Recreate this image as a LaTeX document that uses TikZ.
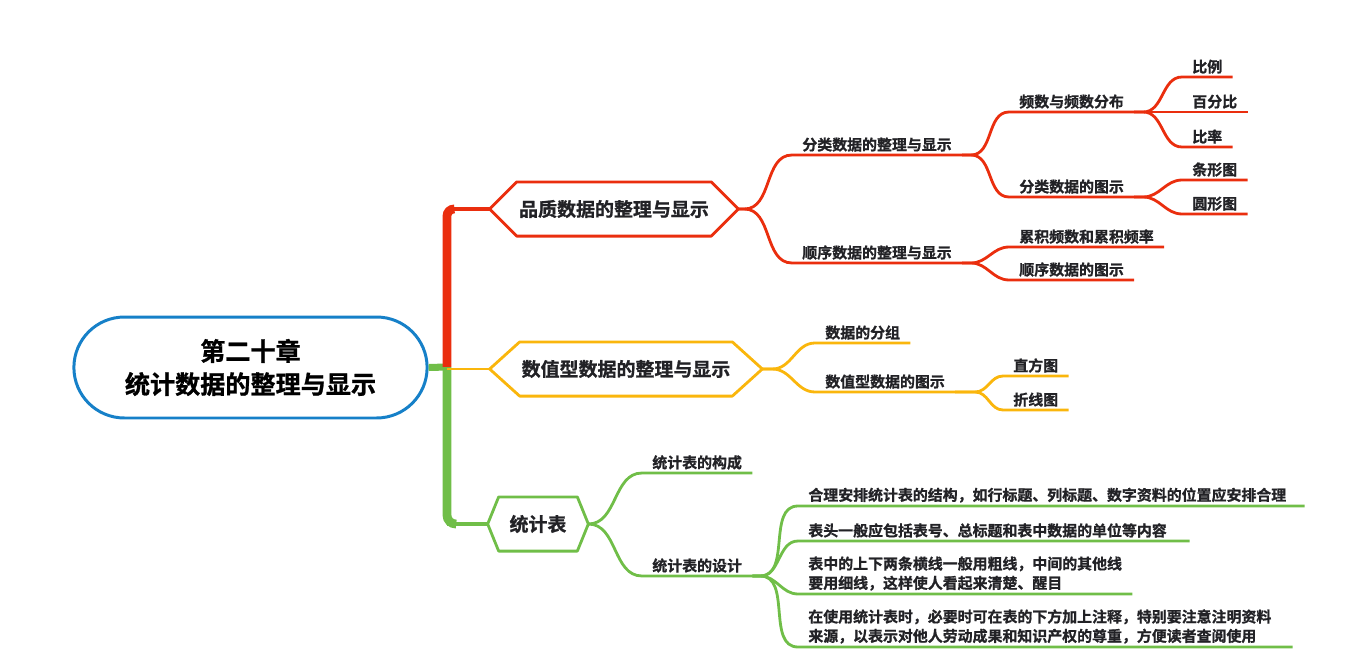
\documentclass[tikz,border=0pt]{standalone}
\usepackage{fontspec}
\newfontfamily\cjk{Noto Sans CJK SC}[BoldFont={Noto Sans CJK SC Bold},BoldFeatures={FakeBold=1}]
\usepackage{tikz}
\usetikzlibrary{shapes.misc,calc}
\definecolor{sky}{RGB}{22,128,200}
\definecolor{flame}{RGB}{234,46,14}
\definecolor{gold}{RGB}{250,182,12}
\definecolor{grass}{RGB}{112,190,72}
\definecolor{ink}{RGB}{34,34,38}
% hexagon outline round a node: colour, node, tip depth
\newcommand\hexframe[3]{%
  \draw[#1,line width=1.6pt,line join=round] (#2.west) -- ($(#2.north west)+(#3,0)$)
    -- ($(#2.north east)-(#3,0)$) -- (#2.east) -- ($(#2.south east)-(#3,0)$)
    -- ($(#2.south west)+(#3,0)$) -- cycle;}
\tikzset{
  root/.style={rounded rectangle,draw=sky,line width=1.7pt,minimum width=7.3cm,
    minimum height=2.02cm,align=center,text=black,
    font=\cjk\bfseries\fontsize{14.3}{18.8}\selectfont},
  hex/.style={minimum width=#1,minimum height=1.07cm,inner sep=0pt,text=ink,
    font=\cjk\bfseries\fontsize{10.8}{13}\selectfont},
  topic/.style={anchor=south west,inner xsep=0.2cm,inner ysep=0.06cm,align=left,
    text=ink,font=\cjk\bfseries\fontsize{8.5}{11}\selectfont},
  note/.style={topic,text width=#1},
  twig/.style={draw=#1,line width=1.6pt},
}
\begin{document}
\begin{tikzpicture}[x=0.02cm,y=-0.02cm]
  \useasboundingbox (0,0) rectangle (1356,666);
  % root and main branches
  \node[root] (root) at (250.5,367.5) {第二十章\\统计数据的整理与显示};
  \coordinate (tr) at (447,367);
  \node[hex=4.96cm] (h1) at (614,209) {品质数据的整理与显示};
  \node[hex=5.44cm] (h2) at (626,369) {数值型数据的整理与显示};
  \node[hex=2cm] (h3) at (538,524) {统计表};
  \hexframe{flame}{h1}{27}
  \hexframe{gold}{h2}{30}
  \hexframe{grass}{h3}{11}
  \draw[grass,line width=4pt] (root.east) -- (tr);
  \draw[flame,line width=5pt,rounded corners=4pt] (tr) -- (tr |- h1.west) -- ++(6,0);
  \draw[flame,line width=1.8pt] (tr |- h1.west) -- (h1.west);
  \draw[grass,line width=5pt,rounded corners=5pt] (tr) -- (tr |- h3.west) -- ++(8,0);
  \draw[grass,line width=2.4pt] (tr |- h3.west) -- (h3.west);
  \draw[gold,line width=1.5pt] (tr |- h2.west) -- (h2.west);

  % qualitative data
  \node[topic] (fl) at (792,155) {分类数据的整理与显示};
  \node[topic] (sx) at (792,263) {顺序数据的整理与显示};
  \node[topic] (pd) at (1009,112) {频数与频数分布};
  \node[topic] (ft) at (1009,197) {分类数据的图示};
  \node[topic] (lj) at (1009,247) {累积频数和累积频率};
  \node[topic] (st) at (1009,280) {顺序数据的图示};
  \node[topic] (bl) at (1182,77) {比例};
  \node[topic] (bf) at (1182,112) {百分比};
  \node[topic] (bv) at (1182,147) {比率};
  \node[topic] (tx) at (1182,180) {条形图};
  \node[topic] (yx) at (1182,214) {圆形图};
  \foreach \c in {fl,sx}
    \draw[twig=flame] (h1.east) -- ++(6,0) to[out=0,in=180] (\c.south west) -- (\c.south east);
  \foreach \p/\c in {fl/pd,fl/ft,sx/lj,sx/st,pd/bl,pd/bf,pd/bv,ft/tx,ft/yx}
    \draw[twig=flame] (\p.south east) -- ++(9,0) to[out=0,in=180] (\c.south west) -- (\c.south east);

  % numerical data
  \node[topic] (fz) at (815,343) {数据的分组};
  \node[topic] (tsh) at (815,392) {数值型数据的图示};
  \node[topic] (zf) at (1003,376) {直方图};
  \node[topic] (zx) at (1003,410) {折线图};
  \foreach \c in {fz,tsh}
    \draw[twig=gold] (h2.east) -- ++(10,0) to[out=0,in=180] (\c.south west) -- (\c.south east);
  \foreach \c in {zf,zx}
    \draw[twig=gold] (tsh.south east) -- ++(20,0) to[out=0,in=180] (\c.south west) -- (\c.south east);

  % tables
  \node[topic] (gc) at (642,473) {统计表的构成};
  \node[topic] (sj) at (642,576) {统计表的设计};
  \node[note=9.72cm] (n1) at (798,506) {合理安排统计表的结构，如行标题、列标题、数字资料的位置应安排合理};
  \node[note=7.42cm] (n2) at (798,541) {表头一般应包括表号、总标题和表中数据的单位等内容};
  \node[topic] (n3) at (798,594) {表中的上下两条横线一般用粗线，中间的其他线\\要用细线，这样使人看起来清楚、醒目};
  \node[note=9.48cm] (n4) at (798,647) {在使用统计表时，必要时可在表的下方加上注释，特别要注意注明资料\\来源，以表示对他人劳动成果和知识产权的尊重，方便读者查阅使用};
  \foreach \c in {gc,sj}
    \draw[twig=grass] (h3.east) to[out=0,in=180] (\c.south west) -- (\c.south east);
  \foreach \c in {n1,n2,n3,n4}
    \draw[twig=grass] (sj.south east) -- ++(8,0) to[out=0,in=180] (\c.south west) -- (\c.south east);
\end{tikzpicture}
\end{document}
